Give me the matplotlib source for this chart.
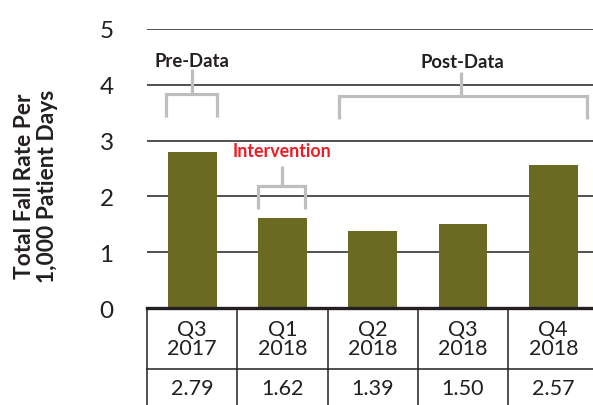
import matplotlib
matplotlib.use("Agg")
import matplotlib.pyplot as plt
import matplotlib.transforms as mtransforms

categories = ["Q3\n2017", "Q1\n2018", "Q2\n2018", "Q3\n2018", "Q4\n2018"]
values = [2.79, 1.62, 1.39, 1.50, 2.57]
value_labels = ["2.79", "1.62", "1.39", "1.50", "2.57"]
yticks = [0, 1, 2, 3, 4, 5]

BAR = "#6B6A22"
DARK = "#231F20"
GRAY = "#BCBEC0"
RED = "#ED1C24"

plt.rcParams['font.family'] = ['Lato', 'DejaVu Sans']

W, H = 593, 406
fig = plt.figure(figsize=(W / 100, H / 100), dpi=100)
ax = fig.add_axes([147 / W, (H - 309.3) / H, (W - 147) / W, (309.3 - 29.7) / H])

x = list(range(len(categories)))
ax.bar(x, values, width=0.54, color=BAR, zorder=3)
ax.set_xlim(-0.5, 4.44)
ax.set_ylim(0, 5)

for s in ax.spines.values():
    s.set_visible(False)
ax.set_xticks([])
ax.set_yticks(yticks)
ax.set_yticklabels([str(t) for t in yticks], fontsize=17.5, color=DARK)
ax.tick_params(axis='y', length=0, pad=24)

for t in yticks[1:]:
    ax.axhline(t, color=DARK, lw=1.1, zorder=1)
ax.axhline(0, color=DARK, lw=2.4, zorder=4, clip_on=False)

# y label
fig.text(36 / W, (H - 186.5) / H, "Total Fall Rate Per\n1,000 Patient Days",
         rotation=90, ha='center', va='center', multialignment='center',
         fontsize=16.4, fontweight='bold', color=DARK, linespacing=1.1)

# table below axis
trans = mtransforms.blended_transform_factory(ax.transData, fig.transFigure)
ytop = (H - 309.3) / H
ymid = (H - 370) / H
for b in [i - 0.5 for i in range(len(categories) + 1)]:
    ax.plot([b, b], [ytop, 0], transform=trans, color=DARK, lw=1.1, clip_on=False)
ax.plot([-0.5, 4.6], [ymid, ymid], transform=trans, color=DARK, lw=1.1, clip_on=False)
for i, (c, v) in enumerate(zip(categories, value_labels)):
    ax.text(i, (H - 339.5) / H, c, transform=trans, ha='center', va='center',
            fontsize=15.5, color=DARK, linespacing=0.98)
    ax.text(i, (H - 389) / H, v, transform=trans, ha='center', va='center',
            fontsize=15.5, color=DARK)

# brackets
def bracket(x0, x1, xs, ylow, yh, ytop_):
    kw = dict(color=GRAY, lw=2.3, solid_capstyle='butt', solid_joinstyle='miter', zorder=2)
    ax.plot([x0, x0, x1, x1], [ylow, yh, yh, ylow], **kw)
    ax.plot([xs, xs], [yh, ytop_], **kw)

bracket(-0.286, 0.275, 0, 3.42, 3.83, 4.28)
ax.text(0, 4.44, "Pre-Data", ha='center', va='center', fontsize=13.3,
        fontweight='bold', color=DARK)

bracket(1.63, 4.37, 2.98, 3.38, 3.80, 4.23)
ax.text(2.99, 4.41, "Post-Data", ha='center', va='center', fontsize=13.3,
        fontweight='bold', color=DARK)

bracket(0.729, 1.254, 0.99, 1.77, 2.19, 2.55)
ax.text(1.0, 2.83, "Intervention", ha='center', va='center', fontsize=12.8,
        fontweight='bold', color=RED)

fig.savefig("out.png", dpi=100)
